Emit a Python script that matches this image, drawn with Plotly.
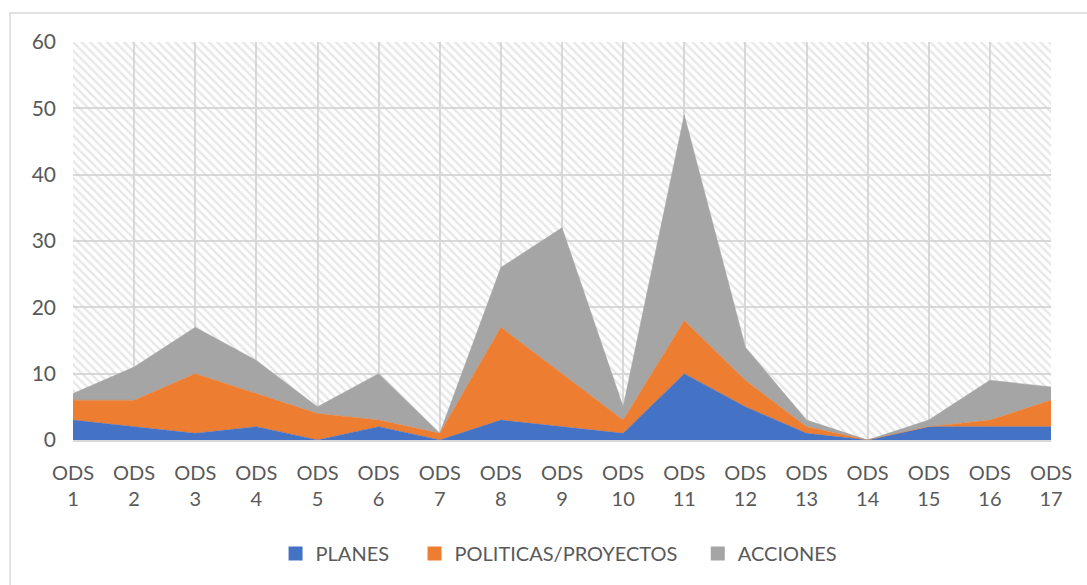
import plotly.graph_objects as go

categories = [f"ODS<br>{i}" for i in range(1, 18)]
planes = [3, 2, 1, 2, 0, 2, 0, 3, 2, 1, 10, 5, 1, 0, 2, 2, 2]
politicas = [3, 4, 9, 5, 4, 1, 1, 14, 8, 2, 8, 4, 1, 0, 0, 1, 4]
acciones = [1, 5, 7, 5, 1, 7, 0, 9, 22, 2, 31, 5, 1, 0, 1, 6, 2]
y_ticks = [0, 10, 20, 30, 40, 50, 60]

series = [
    ("PLANES", planes, "#4472C4"),
    ("POLITICAS/PROYECTOS", politicas, "#ED7D31"),
    ("ACCIONES", acciones, "#A5A5A5"),
]

FONT = "Lato"
TXT = "#595959"
GRID = "#d9d9d9"

fig = go.Figure()

# hatched plot-area background (on base axes, drawn beneath the areas)
fig.add_trace(go.Bar(
    x=[0], y=[1], width=[1], xaxis="x", yaxis="y",
    marker=dict(color="rgba(0,0,0,0)", line=dict(width=0),
                pattern=dict(shape="\\", fgcolor="#d0d0d0", bgcolor="rgba(0,0,0,0)",
                             size=6, solidity=0.4)),
    showlegend=False, hoverinfo="skip",
))

xs = list(range(len(categories)))
for name, vals, col in series:
    fig.add_trace(go.Scatter(
        x=xs, y=vals, name=name, xaxis="x2", yaxis="y2",
        stackgroup="one", mode="lines",
        line=dict(width=0.5, color=col), fillcolor=col,
        showlegend=False,
    ))

# legend entries as filled squares
pads = ["\u00a0" * 4, "\u00a0" * 3, ""]
for (name, vals, col), pad in zip(series, pads):
    fig.add_trace(go.Scatter(
        x=[None], y=[None], name=name + pad, xaxis="x2", yaxis="y2",
        mode="markers", marker=dict(symbol="square", size=14, color=col),
        showlegend=True, hoverinfo="skip",
    ))

fig.update_layout(
    width=1087, height=585,
    margin=dict(l=73, r=36, t=42, b=145),
    paper_bgcolor="white", plot_bgcolor="white",
    font=dict(family=FONT, size=20, color=TXT),
    xaxis=dict(visible=False, range=[-0.5, 0.5], fixedrange=True),
    yaxis=dict(visible=False, range=[0, 1], fixedrange=True),
    xaxis2=dict(overlaying="x", side="bottom", range=[0, len(categories) - 1],
                tickmode="array", tickvals=xs, ticktext=categories,
                showgrid=True, gridcolor=GRID, gridwidth=1.5,
                showline=True, linecolor=GRID, linewidth=1.5,
                ticks="", ticklabelstandoff=14,
                tickfont=dict(size=20, color=TXT, family=FONT),
                zeroline=False),
    yaxis2=dict(overlaying="y", side="left", range=[0, 60],
                tickmode="array", tickvals=y_ticks,
                showgrid=True, gridcolor=GRID, gridwidth=1.5,
                showline=False, zeroline=False, ticks="",
                ticklabelstandoff=16,
                tickfont=dict(size=21, color=TXT, family=FONT)),
    legend=dict(orientation="h", x=0.497, xanchor="center", y=-0.285, yanchor="middle",
                font=dict(size=20, color=TXT, family=FONT), traceorder="normal",
                itemwidth=30),
    showlegend=True,
)

# outer chart border
fig.add_shape(type="rect", xref="paper", yref="paper",
              x0=(10 - 73) / 978, x1=(1100 - 73) / 978,
              y0=(440 - 600) / 398, y1=(440 - 13) / 398,
              line=dict(color=GRID, width=1.5), fillcolor="rgba(0,0,0,0)", layer="below")

fig.write_html("out.html", config={"displayModeBar": False},
               post_script="document.body.style.margin='0';")
